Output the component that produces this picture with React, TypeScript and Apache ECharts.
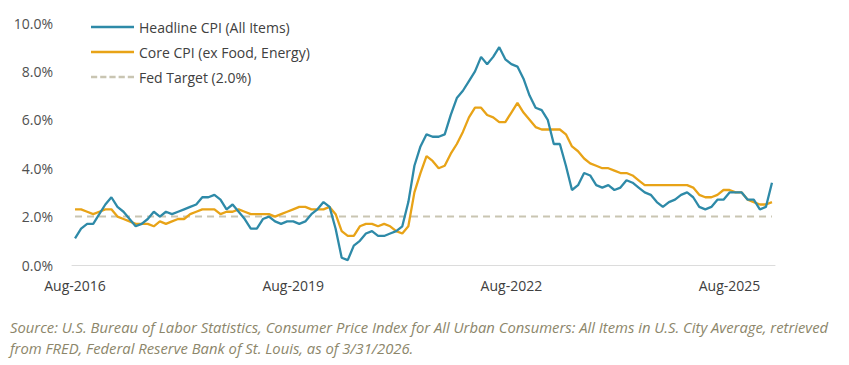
import React, { useEffect, useRef } from "react";
import * as echarts from "echarts";

const MONTHS = ["Jan", "Feb", "Mar", "Apr", "May", "Jun", "Jul", "Aug", "Sep", "Oct", "Nov", "Dec"];
// Monthly from Aug-2016 to Mar-2026
const START_YEAR = 2016;
const START_MONTH = 7; // Aug (0-based)
const N_MONTHS = 116;
const categories: string[] = [];
for (let i = 0; i < N_MONTHS; i++) {
  const mi = START_MONTH + i;
  categories.push(`${MONTHS[mi % 12]}-${START_YEAR + Math.floor(mi / 12)}`);
}

const headlineCPI = [
  // 2016 Aug-Dec
  1.1, 1.5, 1.7, 1.7, 2.1,
  // 2017
  2.5, 2.8, 2.4, 2.2, 1.9, 1.6, 1.7, 1.9, 2.2, 2.0, 2.2, 2.1,
  // 2018
  2.2, 2.3, 2.4, 2.5, 2.8, 2.8, 2.9, 2.7, 2.3, 2.5, 2.2, 1.9,
  // 2019
  1.5, 1.5, 1.9, 2.0, 1.8, 1.7, 1.8, 1.8, 1.7, 1.8, 2.1, 2.3,
  // 2020
  2.6, 2.4, 1.5, 0.3, 0.2, 0.8, 1.0, 1.3, 1.4, 1.2, 1.2, 1.3,
  // 2021
  1.4, 1.6, 2.6, 4.1, 4.9, 5.4, 5.3, 5.3, 5.4, 6.2, 6.9, 7.2,
  // 2022
  7.6, 8.0, 8.6, 8.3, 8.6, 9.0, 8.5, 8.3, 8.2, 7.7, 7.0, 6.5,
  // 2023
  6.4, 6.0, 5.0, 5.0, 4.1, 3.1, 3.3, 3.8, 3.7, 3.3, 3.2, 3.3,
  // 2024
  3.1, 3.2, 3.5, 3.4, 3.2, 3.0, 2.9, 2.6, 2.4, 2.6, 2.7, 2.9,
  // 2025
  3.0, 2.8, 2.4, 2.3, 2.4, 2.7, 2.7, 3.0, 3.0, 3.0, 2.7, 2.7,
  // 2026 Jan-Mar
  2.3, 2.4, 3.4,
];

const coreCPI = [
  // 2016 Aug-Dec
  2.3, 2.3, 2.2, 2.1, 2.2,
  // 2017
  2.3, 2.3, 2.0, 1.9, 1.8, 1.7, 1.7, 1.7, 1.6, 1.8, 1.7, 1.8,
  // 2018
  1.9, 1.9, 2.1, 2.2, 2.3, 2.3, 2.3, 2.1, 2.2, 2.2, 2.3, 2.2,
  // 2019
  2.1, 2.1, 2.1, 2.1, 2.0, 2.1, 2.2, 2.3, 2.4, 2.4, 2.3, 2.3,
  // 2020
  2.3, 2.4, 2.1, 1.4, 1.2, 1.2, 1.6, 1.7, 1.7, 1.6, 1.7, 1.6,
  // 2021
  1.4, 1.3, 1.6, 3.0, 3.8, 4.5, 4.3, 4.0, 4.1, 4.6, 5.0, 5.5,
  // 2022
  6.1, 6.5, 6.5, 6.2, 6.1, 5.9, 5.9, 6.3, 6.7, 6.3, 6.0, 5.7,
  // 2023
  5.6, 5.6, 5.6, 5.6, 5.4, 4.9, 4.7, 4.4, 4.2, 4.1, 4.0, 4.0,
  // 2024
  3.9, 3.8, 3.8, 3.7, 3.5, 3.3, 3.3, 3.3, 3.3, 3.3, 3.3, 3.3,
  // 2025
  3.3, 3.2, 2.9, 2.8, 2.8, 2.9, 3.1, 3.1, 3.0, 3.0, 2.7, 2.6,
  // 2026 Jan-Mar
  2.5, 2.5, 2.6,
];

const FED_TARGET = 2.0;
const fedTarget = categories.map(() => FED_TARGET);

const Y_MIN = 0;
const Y_MAX = 10;
const Y_INTERVAL = 2;

const SERIES_NAMES = ["Headline CPI (All Items)", "Core CPI (ex Food, Energy)", "Fed Target (2.0%)"];
const SOURCE_LINES = [
  "Source: U.S. Bureau of Labor Statistics, Consumer Price Index for All Urban Consumers: All Items in U.S. City Average, retrieved",
  "from FRED, Federal Reserve Bank of St. Louis, as of 3/31/2026.",
];

const FONT = "'Open Sans', 'Noto Sans', sans-serif";

const COLOR_HEAD = "#2e8aa8";
const COLOR_CORE = "#e8a317";
const COLOR_FED = "#c9c5b2";

// legend icons: a thin line centred in a 43x14 box, and a dashed version
const SOLID_ICON = "path://M0,0M43,14M0,5.8H43V8.2H0Z";
const DASH_ICON =
  "path://M0,0M43,14M0,5.8H6.2V8.2H0Z M9.2,5.8H15.4V8.2H9.2Z M18.4,5.8H24.6V8.2H18.4Z M27.6,5.8H33.8V8.2H27.6Z M36.8,5.8H43V8.2H36.8Z";

export default function App() {
  const ref = useRef<HTMLDivElement>(null);
  useEffect(() => {
    if (!ref.current) return;
    const chart = echarts.init(ref.current, undefined, { renderer: "svg" });
    chart.setOption({
      animation: false,
      backgroundColor: "#ffffff",
      grid: { left: 72, right: 74, top: 23, bottom: 100, containLabel: false },
      legend: {
        orient: "vertical",
        left: 91,
        top: 20,
        padding: 0,
        itemWidth: 43,
        itemHeight: 14,
        itemGap: 11,
        textStyle: { fontFamily: FONT, fontSize: 14, color: "#404040" },
        data: [
          { name: SERIES_NAMES[0], icon: SOLID_ICON },
          { name: SERIES_NAMES[1], icon: SOLID_ICON },
          { name: SERIES_NAMES[2], icon: DASH_ICON },
        ],
      },
      xAxis: {
        type: "category",
        data: categories,
        boundaryGap: true,
        axisLine: { lineStyle: { color: "#dcdcdc", width: 1 } },
        axisTick: { show: false },
        axisLabel: {
          interval: 35,
          margin: 13,
          fontFamily: FONT,
          fontSize: 14,
          color: "#404040",
        },
        splitLine: { show: false },
      },
      yAxis: {
        type: "value",
        min: Y_MIN,
        max: Y_MAX,
        interval: Y_INTERVAL,
        axisLine: { show: false },
        axisTick: { show: false },
        splitLine: { show: false },
        axisLabel: {
          margin: 19,
          fontFamily: FONT,
          fontSize: 14,
          color: "#505050",
          formatter: (v: number) => v.toFixed(1) + "%",
        },
      },
      series: [
        {
          name: SERIES_NAMES[2],
          type: "line",
          data: fedTarget,
          symbol: "none",
          z: 1,
          lineStyle: { color: COLOR_FED, width: 2, type: [7, 5] },
          itemStyle: { color: COLOR_FED },
        },
        {
          name: SERIES_NAMES[1],
          type: "line",
          data: coreCPI,
          symbol: "none",
          z: 2,
          lineStyle: { color: COLOR_CORE, width: 2.3 },
          itemStyle: { color: COLOR_CORE },
        },
        {
          name: SERIES_NAMES[0],
          type: "line",
          data: headlineCPI,
          symbol: "none",
          z: 3,
          lineStyle: { color: COLOR_HEAD, width: 2.3 },
          itemStyle: { color: COLOR_HEAD },
        },
      ],
      graphic: SOURCE_LINES.map((t, i) => ({
        type: "text",
        left: 10,
        top: 319 + i * 21,
        style: {
          text: t,
          fontFamily: FONT,
          fontStyle: "italic",
          fontSize: 14.8,
          fill: "#8c866a",
        },
      })),
    });
    return () => chart.dispose();
  }, []);
  return (
    <div
      ref={ref}
      style={{ position: "fixed", left: 0, top: 0, width: 849, height: 365, background: "#fff" }}
    />
  );
}
